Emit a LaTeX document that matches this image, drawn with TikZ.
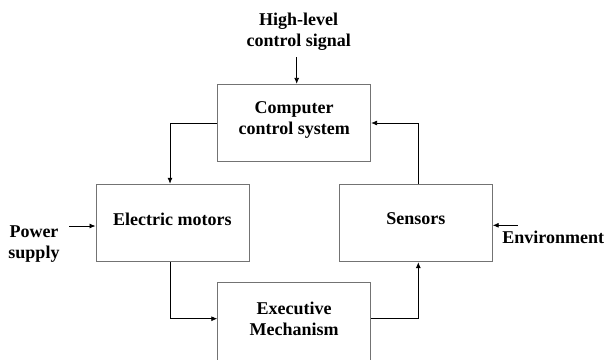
\documentclass[tikz,border=0pt]{standalone}
\usepackage{fontspec}
\setmainfont{Liberation Serif}
\usetikzlibrary{arrows.meta}

\begin{document}
\begin{tikzpicture}[x=1pt, y=-1pt,
        block/.style={draw=black!55, line width=0.8pt, minimum width=153pt, minimum height=77.5pt,
            align=center, font=\fontsize{18}{21}\selectfont\bfseries},
        lbl/.style={align=center, inner sep=0pt, font=\fontsize{18}{21}\selectfont\bfseries},
        conn/.style={line width=0.8pt, -{Latex[length=6pt, width=5pt]}}]
    \clip (0,0) rectangle (607,359);
    % blocks
    \node[block, text depth=10pt] (ccs)  at (294.2,123)   {Computer\\control system};
    \node[block, text depth=8pt]  (em)   at (172.4,222.9) {Electric motors};
    \node[block, text depth=8pt]  (sens) at (415.8,223)   {Sensors};
    \node[block, text depth=6pt]  (exec) at (294.2,321.4) {Executive\\Mechanism};
    % outside inputs
    \node[lbl] (sig)   at (298.7,31.7)  {High-level\\control signal};
    \node[lbl] (power) at (34,244)      {Power\\supply};
    \node[lbl] (env)   at (553.2,237.5) {Environment};
    \coordinate (sigout) at (296.7,57);
    \coordinate (pwrout) at (69.3,226);
    \coordinate (envout) at (517.7,225.3);
    \draw[conn] (sigout) -- (sigout |- ccs.north);
    \draw[conn] (pwrout) -- (pwrout -| em.west);
    \draw[conn] (envout) -- (envout -| sens.east);
    % loop
    \draw[conn] (ccs.west) -| ([xshift=-2.4pt]em.north);
    \draw[conn] ([xshift=-2.4pt]em.south) |- ([yshift=2.7pt]exec.west);
    \draw[conn] ([yshift=2.7pt]exec.east) -| ([xshift=2.5pt]sens.south);
    \draw[conn] ([xshift=2.5pt]sens.north) |- (ccs.east);
\end{tikzpicture}
\end{document}
